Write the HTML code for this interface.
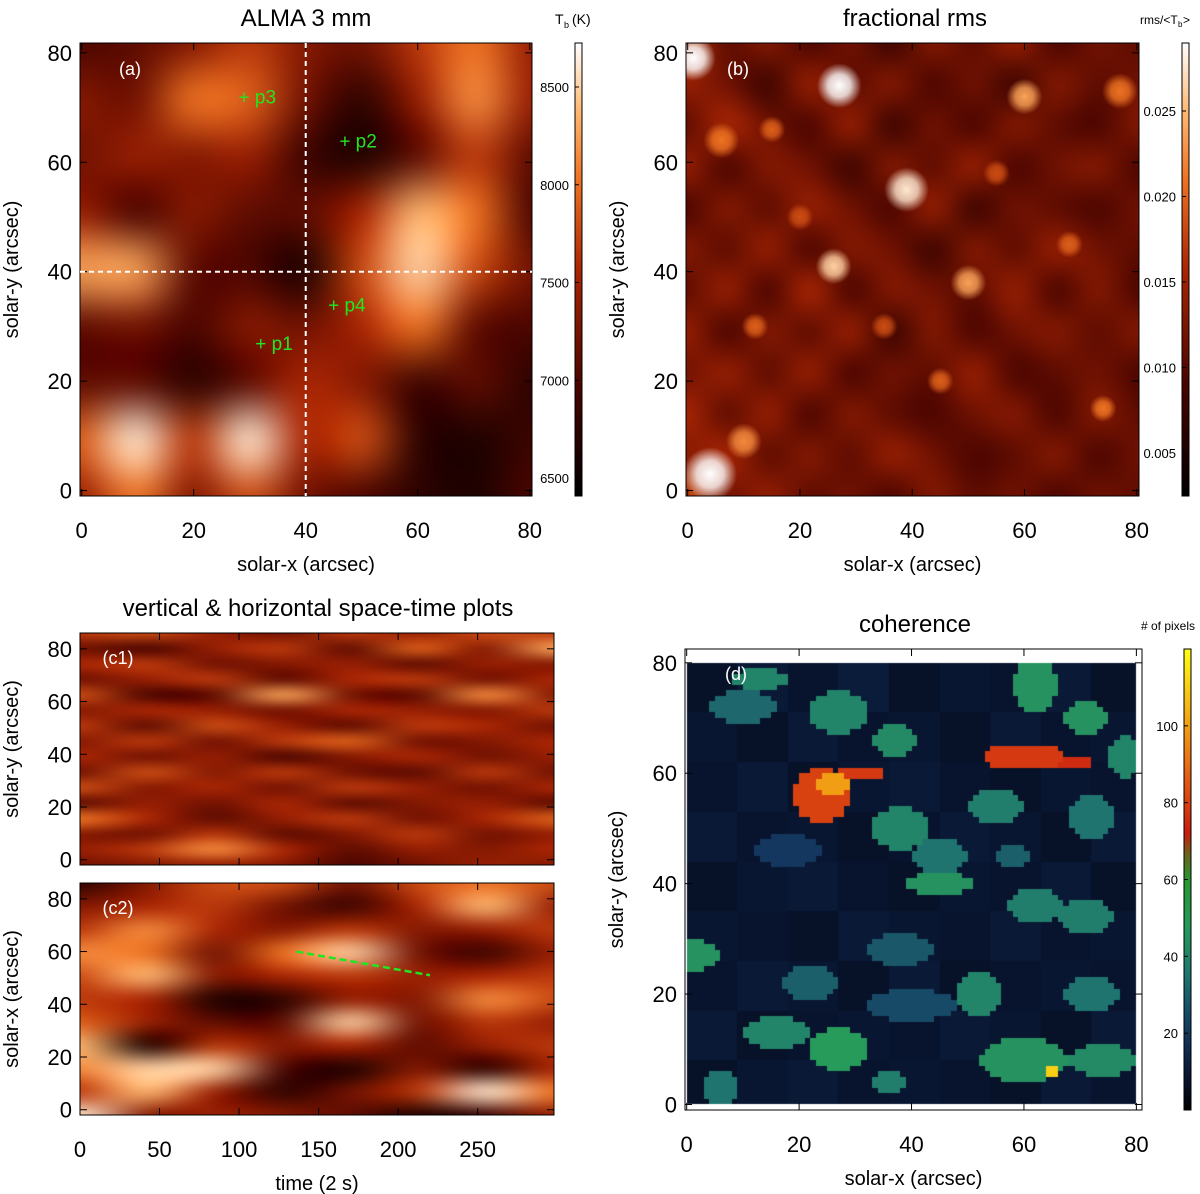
<!DOCTYPE html>
<html><head><meta charset="utf-8">
<style>
html,body{margin:0;padding:0;background:#fff;width:1200px;height:1194px;overflow:hidden;font-family:"Liberation Sans",Arial,sans-serif}
#cv{position:absolute;left:0;top:0}
#sv{position:absolute;left:0;top:0}
</style></head>
<body>
<canvas id="cv" width="1200" height="1194"></canvas>
<svg id="sv" width="1200" height="1194" xmlns="http://www.w3.org/2000/svg"></svg>
<script>
// ---------- data ----------
const almaGrid = [
 [0.25,0.30,0.40,0.55,0.40,0.35,0.55,0.70,0.45],
 [0.40,0.35,0.70,0.65,0.35,0.15,0.45,0.75,0.45],
 [0.35,0.45,0.40,0.45,0.20,0.10,0.30,0.55,0.30],
 [0.45,0.25,0.40,0.30,0.30,0.50,0.85,0.70,0.25],
 [0.80,0.80,0.30,0.25,0.10,0.60,0.90,0.60,0.35],
 [0.30,0.35,0.25,0.40,0.35,0.50,0.70,0.30,0.25],
 [0.30,0.30,0.15,0.30,0.50,0.40,0.20,0.30,0.15],
 [0.65,0.95,0.55,0.95,0.50,0.60,0.15,0.10,0.20],
 [0.45,0.70,0.40,0.60,0.35,0.25,0.15,0.10,0.25]];
const almaTicks = [6500,7000,7500,8000,8500];
const almaPoints = [{n:'p1',x:31,y:27},{n:'p2',x:46,y:64},{n:'p3',x:28,y:72},{n:'p4',x:44,y:34}];
const rmsGrid = [
 [0.55,0.30,0.40,0.25,0.35,0.20,0.40,0.30,0.45,0.25,0.35,0.30],
 [0.45,0.35,0.20,0.45,0.30,0.40,0.25,0.35,0.20,0.40,0.30,0.35],
 [0.30,0.50,0.35,0.25,0.45,0.20,0.35,0.25,0.40,0.30,0.25,0.40],
 [0.45,0.25,0.40,0.35,0.20,0.40,0.30,0.45,0.25,0.35,0.40,0.25],
 [0.25,0.40,0.30,0.45,0.35,0.25,0.45,0.20,0.35,0.30,0.25,0.35],
 [0.40,0.30,0.45,0.25,0.40,0.35,0.20,0.40,0.30,0.45,0.35,0.30],
 [0.30,0.45,0.25,0.50,0.25,0.40,0.35,0.30,0.45,0.25,0.40,0.25],
 [0.45,0.25,0.40,0.30,0.45,0.20,0.40,0.25,0.35,0.40,0.30,0.40],
 [0.35,0.45,0.30,0.45,0.25,0.35,0.30,0.45,0.25,0.30,0.35,0.25],
 [0.50,0.30,0.45,0.25,0.40,0.30,0.25,0.35,0.40,0.25,0.40,0.30],
 [0.40,0.50,0.30,0.40,0.30,0.45,0.35,0.25,0.30,0.40,0.25,0.35],
 [0.60,0.35,0.45,0.30,0.35,0.25,0.40,0.30,0.35,0.25,0.35,0.30]];
const rmsSpots = [[27,74,2.5,1.0],[39,55,2.5,0.95],[26,41,2,0.9],[50,38,2,0.8],[60,72,2,0.8],[1,79,2.5,1.0],[4,3,3,1.0],[10,9,2,0.75],[6,64,2,0.7],[74,15,1.5,0.7],[77,73,2,0.7],[15,66,1.5,0.65],[45,20,1.5,0.65],[35,30,1.5,0.6],[68,45,1.5,0.65],[20,50,1.5,0.6],[55,58,1.5,0.6],[12,30,1.5,0.65]];
const rmsTicks = [0.005,0.010,0.015,0.020,0.025];
const c1Grid = [
 [0.55,0.60,0.45,0.35,0.55,0.45,0.60,0.55],
 [0.35,0.25,0.45,0.55,0.30,0.65,0.40,0.80],
 [0.50,0.55,0.35,0.40,0.45,0.30,0.45,0.40],
 [0.35,0.45,0.55,0.30,0.50,0.55,0.35,0.50],
 [0.60,0.25,0.30,0.80,0.35,0.30,0.75,0.40],
 [0.40,0.50,0.45,0.35,0.50,0.45,0.40,0.55],
 [0.55,0.30,0.60,0.45,0.30,0.55,0.50,0.35],
 [0.40,0.55,0.35,0.55,0.65,0.35,0.40,0.50],
 [0.50,0.35,0.45,0.25,0.40,0.50,0.35,0.45],
 [0.35,0.60,0.40,0.55,0.35,0.30,0.55,0.35],
 [0.60,0.40,0.50,0.35,0.55,0.45,0.35,0.50],
 [0.30,0.45,0.35,0.50,0.30,0.40,0.45,0.30],
 [0.70,0.50,0.30,0.45,0.55,0.35,0.50,0.65],
 [0.40,0.35,0.55,0.30,0.40,0.55,0.35,0.45],
 [0.45,0.55,0.75,0.50,0.30,0.45,0.40,0.50],
 [0.35,0.40,0.45,0.40,0.25,0.35,0.45,0.40]];
const c2Grid = [
 [0.15,0.40,0.60,0.60,0.35,0.60,0.70,0.60],
 [0.40,0.50,0.55,0.35,0.20,0.50,0.85,0.45],
 [0.55,0.75,0.50,0.40,0.55,0.40,0.45,0.55],
 [0.75,0.70,0.35,0.70,0.90,0.35,0.20,0.45],
 [0.60,0.85,0.40,0.50,0.55,0.45,0.50,0.55],
 [0.55,0.50,0.10,0.15,0.45,0.40,0.75,0.60],
 [0.65,0.45,0.30,0.30,0.90,0.35,0.55,0.45],
 [0.85,0.10,0.55,0.40,0.50,0.30,0.45,0.55],
 [0.75,0.90,0.90,0.25,0.10,0.40,0.15,0.50],
 [0.55,0.85,0.45,0.15,0.35,0.55,0.95,0.70],
 [0.95,0.40,0.45,0.40,0.30,0.10,0.20,0.45]];
const timeTicks = [0,50,100,150,200,250];
const cohPatches = [
 [62,76,4,5,45],[27,71,5,4,40],[10,72,6,3,32],[13,77,5,2,40],[24,56,5,5,80],[26,58,3,2,100],[31,60,4,1.5,78],
 [60,63,7,2.5,78],[67,62,5,1.5,75],[71,70,4,3,45],[78,63,3,4,40],[37,66,4,3,42],[0,27,6,3,45],
 [45,40,6,2,45],[62,36,5,3,38],[71,34,5,3,38],[27,10,5,4,48],[16,13,6,3,40],[60,8,8,4,45],[74,8,6,3,42],
 [36,4,3,2,38],[52,20,4,4,40],[72,20,5,3,35],[6,3,3,3,35],[38,50,5,4,40],[45,45,5,3,35],[55,54,5,3,38],[72,52,4,4,35],[22,22,5,3,30],[38,28,6,3,28],[65,6,1,0.6,110],[58,45,3,2,30],[18,46,6,3,20],[40,18,8,3,25]];
const cohBase = [
 [7,10,8,11,7,9,8,10,7],[9,7,10,8,9,7,10,8,9],[8,10,7,9,10,8,7,9,8],[10,8,9,7,8,10,9,7,10],
 [7,9,10,8,7,9,8,10,7],[9,8,7,10,9,8,10,8,9],[8,10,9,7,10,7,8,9,8],[10,7,8,9,8,10,9,7,10],[7,9,10,8,9,8,7,10,8]];
const cohTicks = [20,40,60,80,100];

// ---------- helpers ----------
const cv=document.getElementById('cv'), ctx=cv.getContext('2d');
const sv=document.getElementById('sv'); const NS='http://www.w3.org/2000/svg';
function lerpStops(stops,t){t=Math.max(0,Math.min(1,t));for(let i=1;i<stops.length;i++){if(t<=stops[i][0]){const a=stops[i-1],b=stops[i],f=(t-a[0])/(b[0]-a[0]||1);return [0,1,2].map(k=>Math.round(a[1][k]+(b[1][k]-a[1][k])*f));}}return stops[stops.length-1][1];}
const heatStops=[[0,[0,0,0]],[0.25,[75,5,0]],[0.5,[170,38,4]],[0.7,[238,115,35]],[0.85,[255,185,115]],[1,[255,255,255]]];
const cohStops=[[0,[0,0,0]],[0.07,[8,20,48]],[0.18,[20,60,100]],[0.3,[32,120,112]],[0.4,[38,155,90]],[0.52,[40,150,40]],[0.6,[200,30,15]],[0.75,[235,110,20]],[1,[255,255,20]]];
function gridCanvas(grid,stops){const r=grid.length,c=grid[0].length;const g=document.createElement('canvas');g.width=c;g.height=r;const gx=g.getContext('2d');const im=gx.createImageData(c,r);for(let i=0;i<r;i++)for(let j=0;j<c;j++){const col=lerpStops(stops,grid[i][j]);const k=(i*c+j)*4;im.data[k]=col[0];im.data[k+1]=col[1];im.data[k+2]=col[2];im.data[k+3]=255;}gx.putImageData(im,0,0);return g;}
function drawGrid(grid,stops,x0,y0,w,h){const g=gridCanvas(grid,stops);const r=grid.length,c=grid[0].length;ctx.save();ctx.beginPath();ctx.rect(x0,y0,w,h);ctx.clip();ctx.imageSmoothingEnabled=true;ctx.imageSmoothingQuality='high';const cw=w/(c-1),ch=h/(r-1);ctx.drawImage(g,x0-cw/2,y0-ch/2,w+cw,h+ch);ctx.restore();}
function el(tag,attrs,txt){const e=document.createElementNS(NS,tag);for(const k in attrs)e.setAttribute(k,attrs[k]);if(txt!==undefined)e.textContent=txt;sv.appendChild(e);return e;}
function txt(x,y,s,size,anchor,name,extra){const t=el('text',Object.assign({x:x,y:y,'font-size':size,'text-anchor':anchor||'middle','font-family':'Liberation Sans, Arial, sans-serif',fill:'#000'},extra||{}),s);

return t;}
function scale(d0,d1,p0,p1){return v=>p0+(v-d0)*(p1-p0)/(d1-d0);}
function frame(x0,y0,w,h,name){const r=el('rect',{x:x0,y:y0,width:w,height:h,fill:'none',stroke:'#000','stroke-width':1});

}
function axes(P,xt,yt,xl,yl,showX){
 xt.forEach(v=>{const px=P.sx(v);el('line',{x1:px,x2:px,y1:P.y0+P.h,y2:P.y0+P.h-7,stroke:'#000'});el('line',{x1:px,x2:px,y1:P.y0,y2:P.y0+7,stroke:'#000'});
  if(showX)txt(px,P.y0+P.h+42,String(v),22,'middle','x-tick-label');});
 yt.forEach(v=>{const py=P.sy(v);el('line',{x1:P.x0,x2:P.x0+7,y1:py,y2:py,stroke:'#000'});el('line',{x1:P.x0+P.w,x2:P.x0+P.w-7,y1:py,y2:py,stroke:'#000'});
  txt(P.x0-8,py+8,String(v),22,'end','y-tick-label');});
 if(yl)txt(0,0,yl,20,'middle','y-axis-title',{transform:`translate(${P.x0-62},${P.y0+P.h/2}) rotate(-90)`});
 if(xl)txt(P.x0+P.w/2,P.y0+P.h+75,xl,20,'middle','x-axis-title');
}
function colorbar(x0,y0,h,stops,cbScale,ticks,fmt,name){
 const g=ctx.createLinearGradient(0,y0+h,0,y0);for(let i=0;i<=20;i++){const c=lerpStops(stops,i/20);g.addColorStop(i/20,`rgb(${c})`);}
 ctx.fillStyle=g;ctx.fillRect(x0,y0,7,h);
 frame(x0,y0,7,h,name);
 ticks.forEach(v=>{const py=cbScale(v);el('line',{x1:x0,x2:x0+4,y1:py,y2:py,stroke:'#000'});txt(x0-6,py+5,fmt(v),13,'end','colorbar-tick-label');});
}

// ---------- panel a ----------
const A={x0:80,y0:43,w:452,h:453};A.sx=scale(-0.3,80.4,A.x0,A.x0+A.w);A.sy=scale(-1,81.8,A.y0+A.h,A.y0);
drawGrid(almaGrid,heatStops,A.x0,A.y0,A.w,A.h);
frame(A.x0,A.y0,A.w,A.h,'alma-map-frame');
axes(A,[0,20,40,60,80],[0,20,40,60,80],'solar-x (arcsec)','solar-y (arcsec)',true);
txt(306,26,'ALMA 3 mm',24,'middle','panel-a-title');
txt(130,75,'(a)',18,'middle','panel-a-label',{fill:'#fff'});
el('line',{x1:A.sx(40),x2:A.sx(40),y1:A.y0,y2:A.y0+A.h,stroke:'#fff','stroke-width':2,'stroke-dasharray':'5,4'});
el('line',{x1:A.x0,x2:A.x0+A.w,y1:A.sy(40),y2:A.sy(40),stroke:'#fff','stroke-width':2,'stroke-dasharray':'5,4'});
almaPoints.forEach(p=>{txt(A.sx(p.x),A.sy(p.y)+7,'+ '+p.n,19,'start','marker-'+p.n,{fill:'#22e622'});});
const almaCb=scale(6500,8500,478,87);
colorbar(575,43,453,heatStops,almaCb,almaTicks,v=>String(v),'alma-colorbar');
txt(555,24,'T',14,'start','colorbar-a-title');txt(564,28,'b',9,'start','colorbar-a-sub');txt(572,24,'(K)',14,'start','colorbar-a-unit');

// ---------- panel b ----------
const B={x0:686,y0:43,w:453,h:453};B.sx=scale(-0.3,80.4,B.x0,B.x0+B.w);B.sy=scale(-1,81.8,B.y0+B.h,B.y0);
drawGrid(rmsGrid,heatStops,B.x0,B.y0,B.w,B.h);
ctx.save();ctx.beginPath();ctx.rect(B.x0,B.y0,B.w,B.h);ctx.clip();
rmsSpots.forEach(s=>{const px=B.sx(s[0]),py=B.sy(s[1]),r=s[2]*5.6;const c=lerpStops(heatStops,s[3]);const g=ctx.createRadialGradient(px,py,0,px,py,r*1.6);g.addColorStop(0,`rgba(${c},1)`);g.addColorStop(0.5,`rgba(${c},0.8)`);g.addColorStop(1,`rgba(${c},0)`);ctx.fillStyle=g;ctx.fillRect(px-r*2,py-r*2,r*4,r*4);});
ctx.restore();
frame(B.x0,B.y0,B.w,B.h,'rms-map-frame');
axes(B,[0,20,40,60,80],[0,20,40,60,80],'solar-x (arcsec)','solar-y (arcsec)',true);
txt(915,26,'fractional rms',24,'middle','panel-b-title');
txt(738,75,'(b)',18,'middle','panel-b-label',{fill:'#fff'});
const rmsCb=scale(0.005,0.025,453,111);
colorbar(1182,43,453,heatStops,rmsCb,rmsTicks,v=>v.toFixed(3),'rms-colorbar');
txt(1140,24,'rms/<T',12,'start','colorbar-b-title');txt(1178,27,'b',8,'start','colorbar-b-sub');txt(1183,24,'>',12,'start','colorbar-b-close');

// ---------- panel c1 / c2 ----------
const C1={x0:80,y0:633,w:474,h:232};C1.sx=scale(0,298,C1.x0,C1.x0+C1.w);C1.sy=scale(-2,86,C1.y0+C1.h,C1.y0);
const C2={x0:80,y0:883,w:474,h:232};C2.sx=C1.sx;C2.sy=scale(-2,86,C2.y0+C2.h,C2.y0);
drawGrid(c1Grid,heatStops,C1.x0,C1.y0,C1.w,C1.h);
drawGrid(c2Grid,heatStops,C2.x0,C2.y0,C2.w,C2.h);
frame(C1.x0,C1.y0,C1.w,C1.h,'c1-frame');frame(C2.x0,C2.y0,C2.w,C2.h,'c2-frame');
axes(C1,timeTicks,[0,20,40,60,80],null,'solar-y (arcsec)',false);
axes(C2,timeTicks,[0,20,40,60,80],'time (2 s)','solar-x (arcsec)',true);
txt(318,616,'vertical & horizontal space-time plots',24,'middle','panel-c-title');
txt(118,664,'(c1)',18,'middle','panel-c1-label',{fill:'#fff'});
txt(118,914,'(c2)',18,'middle','panel-c2-label',{fill:'#fff'});
el('line',{x1:C2.sx(136),y1:C2.sy(60),x2:C2.sx(220),y2:C2.sy(51),stroke:'#22e622','stroke-width':2.5,'stroke-dasharray':'7,4'});

// ---------- panel d ----------
const D={x0:685,y0:649,w:457,h:461};D.sx=scale(-0.3,81,D.x0,D.x0+D.w);D.sy=scale(-1,82.5,D.y0+D.h,D.y0);
const N=80;const dg=document.createElement('canvas');dg.width=N;dg.height=N;const dx=dg.getContext('2d');const dim=dx.createImageData(N,N);
for(let i=0;i<N;i++)for(let j=0;j<N;j++){const xv=j+0.5,yv=80-i-0.5;
 const bi=Math.min(8,Math.floor(i/9)),bj=Math.min(8,Math.floor(j/9));let v=cohBase[bi][bj];
 cohPatches.forEach(p=>{const d=((xv-p[0])/p[2])**2+((yv-p[1])/p[3])**2;if(d<=1&&p[4]>v)v=p[4];});
 const c=lerpStops(cohStops,v/120);const k=(i*N+j)*4;dim.data[k]=c[0];dim.data[k+1]=c[1];dim.data[k+2]=c[2];dim.data[k+3]=255;}
dx.putImageData(dim,0,0);
ctx.imageSmoothingEnabled=false;ctx.drawImage(dg,D.sx(0),D.sy(80),D.sx(80)-D.sx(0),D.sy(0)-D.sy(80));
frame(D.x0,D.y0,D.w,D.h,'coherence-map-frame');
axes(D,[0,20,40,60,80],[0,20,40,60,80],'solar-x (arcsec)','solar-y (arcsec)',true);
txt(915,632,'coherence',24,'middle','panel-d-title');
txt(736,680,'(d)',18,'middle','panel-d-label',{fill:'#fff'});
colorbar(1184,649,461,cohStops,scale(0,120,1110,649),cohTicks,v=>String(v),'coherence-colorbar');
txt(1195,630,'# of pixels',12,'end','colorbar-d-title');
</script>
</body></html>
